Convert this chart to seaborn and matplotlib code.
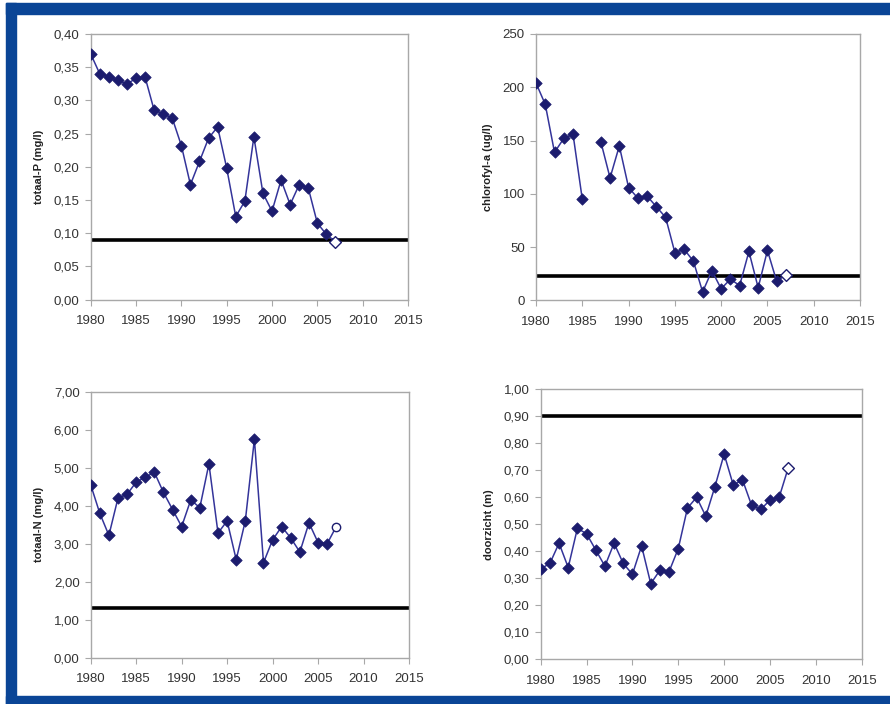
import numpy as np
import pandas as pd
import matplotlib
matplotlib.use('Agg')
import matplotlib.pyplot as plt
from matplotlib.patches import Rectangle
from matplotlib.ticker import FuncFormatter
import seaborn as sns

# ==================== data ====================
years = list(range(1980, 2008))

totaal_p = [0.370, 0.340, 0.335, 0.330, 0.325, 0.333, 0.335, 0.285, 0.280, 0.273,
            0.232, 0.173, 0.208, 0.243, 0.260, 0.198, 0.125, 0.148, 0.245, 0.160,
            0.133, 0.180, 0.143, 0.173, 0.168, 0.115, 0.098, 0.087]

chlorofyl_a = [204, 184, 139, 152, 156, 95, np.nan, 149, 115, 145,
               106, 96, 98, 88, 78, 45, 48, 37, 8, 28,
               11, 20, 14, 46, 12, 47, 18, 24]

totaal_n = [4.55, 3.80, 3.22, 4.20, 4.30, 4.62, 4.75, 4.88, 4.35, 3.90,
            3.45, 4.15, 3.95, 5.10, 3.28, 3.60, 2.58, 3.60, 5.75, 2.50,
            3.10, 3.45, 3.15, 2.78, 3.55, 3.03, 3.00, 3.45]

doorzicht = [0.335, 0.355, 0.430, 0.340, 0.485, 0.465, 0.405, 0.345, 0.430, 0.355,
             0.315, 0.420, 0.280, 0.330, 0.325, 0.410, 0.560, 0.600, 0.530, 0.640,
             0.760, 0.645, 0.665, 0.570, 0.555, 0.590, 0.600, 0.710]

ylabels = ['totaal-P (mg/l)', 'chlorofyl-a (ug/l)', 'totaal-N (mg/l)', 'doorzicht (m)']
norms = [0.09, 23, 1.3, 0.90]
ymax = [0.40, 250, 7.00, 1.00]
ystep = [0.05, 50, 1.00, 0.10]
ydec = [2, 0, 2, 2]
last_marker = ['D', 'D', 'o', 'D']
series = [totaal_p, chlorofyl_a, totaal_n, doorzicht]

# ==================== figure ====================
sns.set_style('white')
plt.rcParams['font.family'] = ['Liberation Sans', 'DejaVu Sans']

fig = plt.figure(figsize=(8.9, 7.04), dpi=100)
W, H = 890, 704

# blue frame
blue = '#0a4596'
for (x0, y0, w, h) in [(6, 3, 884, 11), (6, 3, 10, 701), (6, 696, 884, 8)]:
    fig.patches.append(Rectangle((x0 / W, 1 - (y0 + h) / H), w / W, h / H,
                                 transform=fig.transFigure, color=blue, zorder=0))

# axes boxes in pixels: left, top, right, bottom
boxes = [(90.7, 34, 408, 299.5), (536, 34, 860, 300.5),
         (90.7, 391.7, 409, 657.7), (540.7, 389.3, 861.7, 659.3)]

line_c = '#34349a'
mark_c = '#1c1c6e'
grey = '#a8a8a8'

for i in range(4):
    l, t, r, b = boxes[i]
    ax = fig.add_axes([l / W, 1 - b / H, (r - l) / W, (b - t) / H])
    df = pd.DataFrame({'year': years, 'value': series[i]})
    # segment id so gaps (missing years) break the line
    df['seg'] = df['value'].isna().cumsum()
    df = df.dropna()

    sns.lineplot(data=df, x='year', y='value', units='seg', estimator=None,
                 color=line_c, linewidth=1.1, ax=ax, zorder=3)
    sns.scatterplot(data=df.iloc[:-1], x='year', y='value', marker='D', s=34,
                    color=mark_c, edgecolor=mark_c, linewidth=0.5, ax=ax, zorder=4)
    sns.scatterplot(data=df.tail(1), x='year', y='value', marker=last_marker[i], s=36,
                    facecolor='white', edgecolor=mark_c, linewidth=1.0, ax=ax, zorder=4)
    ax.axhline(norms[i], color='black', linewidth=2.6, zorder=2)

    ax.set_xlim(1980, 2015)
    ax.set_ylim(0, ymax[i])
    ax.set_xticks(range(1980, 2016, 5))
    ax.set_yticks(np.arange(0, ymax[i] + ystep[i] / 2, ystep[i]))
    d = ydec[i]
    ax.yaxis.set_major_formatter(FuncFormatter(lambda v, p, d=d: f'{v:.{d}f}'.replace('.', ',')))
    ax.set_xlabel('')
    ax.set_ylabel(ylabels[i], fontsize=8, fontweight='bold', color='#222222', labelpad=7)
    for s in ax.spines.values():
        s.set_color(grey)
        s.set_linewidth(1.0)
    ax.tick_params(axis='both', direction='out', length=4, width=0.8, color=grey,
                   labelsize=9.5, labelcolor='#333333', left=True, bottom=True)
    ax.tick_params(axis='x', pad=7)
    ax.tick_params(axis='y', pad=4)
    ax.set_facecolor('white')

fig.savefig('out.png', dpi=100, facecolor='white')
